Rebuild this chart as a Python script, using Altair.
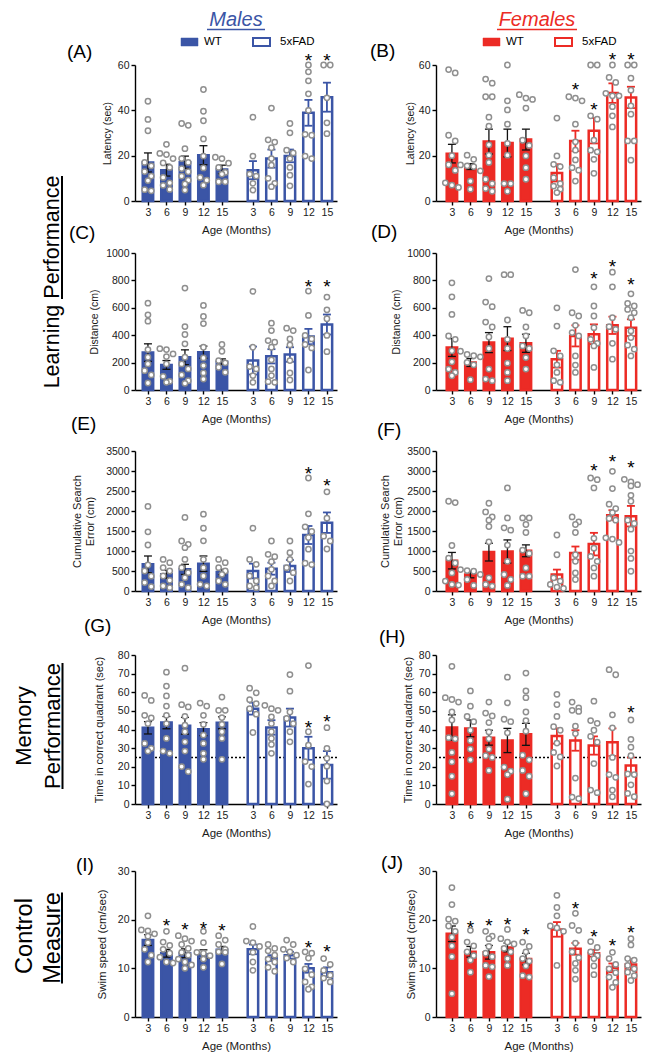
import altair as alt
import pandas as pd

FONT = "Liberation Sans"
AGES = [3, 6, 9, 12, 15]
BLUE = "#3B55A6"
RED = "#EC2B25"
GRAY = "#8F8F8F"

# ---------------- Panel A : latency, males ----------------
A_WT_MEAN = [17.0, 13.6, 17.1, 20.2, 13.9]
A_WT_SEM = [4.2, 2.6, 2.7, 4.2, 1.9]
A_WT_PTS = [
    [44, 36, 31, 17, 15.5, 13, 11, 9, 5, 4.5],
    [25, 21, 20.5, 18.7, 16.8, 14.8, 10.4, 8, 6.9, 5.1],
    [34.2, 33.4, 23.1, 18.7, 17, 14.3, 12.9, 11, 9.2, 7.5, 4.8],
    [49.2, 39.6, 35.4, 27.4, 19.8, 14.6, 10.4, 9.2, 7],
    [19.3, 18.7, 16.7, 14.8, 12.6, 11.9, 8.5, 8.5],
]
A_FAD_MEAN = [13.6, 18.7, 19.9, 38.9, 45.8]
A_FAD_SEM = [4.0, 4.0, 2.8, 5.7, 6.4]
A_FAD_PTS = [
    [37, 19.8, 11.9, 11, 7.8, 4.8],
    [41, 27, 26, 23.5, 18.7, 15.8, 10, 7.8, 6.3],
    [34.2, 30.1, 22.4, 21.2, 18.7, 14.8, 11.4, 6.7],
    [60, 57, 53, 47.3, 40, 29.4, 29, 19.8, 18.7],
    [60, 60, 45.5, 34.5, 29.7],
]
A_STARS = [("5xFAD", 12, 65.5), ("5xFAD", 15, 65.5)]

# ---------------- Panel B : latency, females ----------------
B_WT_MEAN = [20.9, 15.2, 26.2, 25.6, 27.1]
B_WT_SEM = [4.1, 1.3, 5.5, 6.1, 4.6]
B_WT_PTS = [
    [58, 56.5, 29, 26.5, 20, 16, 13.5, 8, 7, 6],
    [20.2, 18.4, 15.9, 15.5, 15.2, 13.3, 8.8, 5.2],
    [53.8, 52, 46, 46, 37, 33, 24.8, 20.2, 17, 9.6, 7.7, 5.5, 4.3],
    [60, 44.2, 40.2, 33.9, 25.4, 20.2, 7.7, 7.7, 4.3],
    [46.9, 45.4, 44.8, 41, 26.8, 24.5, 19.9, 14.7, 9.6],
]
B_FAD_MEAN = [12.4, 26.5, 31.0, 47.6, 45.7]
B_FAD_SEM = [3.8, 4.5, 5.6, 4.3, 4.7]
B_FAD_PTS = [
    [36.6, 19.9, 16.2, 15.2, 10.3, 7.7, 6.6, 5.2, 3.7],
    [46, 45.4, 44.2, 33.9, 26.1, 22.4, 18.1, 14.7, 13.6, 8.8],
    [60, 60, 37.6, 36.1, 26.8, 22.4, 21.7, 18.4, 12.2],
    [60, 54.5, 52.3, 47.5, 46.4, 46.4, 41.6, 37.6, 32.7],
    [60, 60, 54.2, 48.9, 42, 38.3, 26.5, 26.5, 18],
]
B_STARS = [("5xFAD", 6, 52.3), ("5xFAD", 9, 43.8), ("5xFAD", 12, 65.6), ("5xFAD", 15, 65.8)]

# ---------------- Panel C : distance, males ----------------
C_WT_MEAN = [273, 183, 239, 276, 207]
C_WT_SEM = [64, 32, 54, 44, 20]
C_WT_PTS = [
    [634, 549, 502, 295, 239, 190, 141, 110, 51],
    [302, 295, 263, 244, 190, 100, 63, 56],
    [744, 463, 405, 337, 239, 190, 154, 110, 68, 49],
    [617, 537, 485, 312, 234, 178, 125, 80],
    [332, 283, 215, 198, 166, 129],
]
C_FAD_MEAN = [215, 246, 259, 390, 478]
C_FAD_SEM = [102, 52, 53, 56, 73]
C_FAD_PTS = [
    [720, 312, 171, 154, 105, 56],
    [488, 434, 361, 349, 312, 220, 154, 105, 61, 56],
    [451, 434, 373, 329, 215, 124, 73],
    [722, 544, 398, 373, 332, 307, 146],
    [678, 585, 520, 398, 280],
]
C_STARS = [("5xFAD", 12, 812), ("5xFAD", 15, 812)]

# ---------------- Panel D : distance, females ----------------
D_WT_MEAN = [310, 201, 346, 375, 341]
D_WT_SEM = [65, 29, 73, 87, 66]
D_WT_PTS = [
    [782, 680, 552, 395, 370, 286, 206, 153, 128, 104],
    [283, 259, 250, 242, 201, 184, 75],
    [813, 642, 608, 496, 460, 387, 303, 153, 80, 68],
    [842, 842, 511, 370, 303, 196, 128, 68],
    [581, 564, 460, 395, 322, 303, 237, 153],
]
D_FAD_MEAN = [225, 395, 407, 472, 455]
D_FAD_SEM = [61, 77, 72, 63, 61]
D_FAD_PTS = [
    [600, 467, 286, 249, 184, 128, 68, 56],
    [879, 564, 540, 472, 419, 395, 249, 182, 128],
    [753, 613, 540, 455, 370, 341, 322, 165],
    [860, 753, 528, 462, 443, 341, 225],
    [702, 632, 613, 588, 564, 528, 431, 383, 327, 298, 249],
]
D_STARS = [("5xFAD", 9, 867), ("5xFAD", 12, 956), ("5xFAD", 15, 826)]

# ---------------- Panel E : cumulative search error, males ----------------
E_WT_MEAN = [667, 417, 541, 683, 475]
E_WT_SEM = [208, 100, 126, 192, 66]
E_WT_PTS = [
    [2114, 1480, 1150, 650, 500, 370, 210, 110],
    [790, 708, 583, 500, 375, 267, 125, 83],
    [1840, 1250, 1167, 1083, 790, 583, 458, 333, 167, 83],
    [1920, 1571, 1254, 790, 583, 375, 167, 125],
    [790, 708, 583, 500, 417, 250, 167],
]
E_FAD_MEAN = [500, 558, 625, 1400, 1708]
E_FAD_SEM = [183, 150, 150, 225, 256]
E_FAD_PTS = [
    [1571, 790, 667, 375, 250, 125, 83],
    [1250, 916, 858, 733, 541, 375, 250, 125],
    [1250, 958, 790, 583, 458, 250],
    [2825, 1930, 1604, 1487, 1337, 1045, 694, 660],
    [2480, 1820, 1370, 1250, 1050],
]
E_STARS = [("5xFAD", 12, 3125), ("5xFAD", 15, 2825)]

# ---------------- Panel F : cumulative search error, females ----------------
F_WT_MEAN = [758, 412, 972, 988, 1005]
F_WT_SEM = [206, 82, 222, 289, 148]
F_WT_PTS = [
    [2244, 2210, 1137, 824, 700, 453, 247, 165, 148],
    [535, 511, 494, 412, 288, 140],
    [2194, 1978, 1853, 1770, 1612, 1230, 330, 165, 124],
    [2576, 1828, 1580, 1520, 1147, 741, 412, 288, 140],
    [1828, 1828, 1662, 1463, 1022, 939, 577, 371, 371],
]
F_FAD_MEAN = [412, 947, 1172, 1895, 1870]
F_FAD_SEM = [123, 165, 282, 125, 257]
F_FAD_PTS = [
    [1400, 906, 330, 247, 165, 99, 66],
    [1853, 1728, 1662, 1463, 906, 741, 453, 288],
    [2825, 2784, 2576, 1318, 1071, 865, 742, 577, 371],
    [2992, 2560, 2170, 2061, 1961, 1812, 1770, 1330, 1297, 1214],
    [2792, 2726, 2659, 2626, 2393, 2244, 1770, 1687, 1545, 997, 814, 494],
]
F_STARS = [("5xFAD", 9, 3200), ("5xFAD", 12, 3433), ("5xFAD", 15, 3267)]

# ---------------- Panel G : time in correct quadrant, males ----------------
G_WT_MEAN = [40.9, 43.7, 42.0, 40.2, 43.6]
G_WT_SEM = [3.3, 3.3, 4.5, 3.5, 3.2]
G_WT_PTS = [
    [58.3, 55.6, 47.6, 46.2, 43.2, 32.5, 29.9, 28.4],
    [70.8, 63.3, 58, 52.6, 47.6, 43.2, 35.2, 28.4, 27.2],
    [72.9, 53.3, 52.1, 47.1, 42.3, 38.8, 33.4, 28.4, 20.1, 17.4],
    [54.2, 52.6, 47.6, 42.7, 37, 32.5, 27.2, 24],
    [57.4, 50.3, 50.3, 46.4, 42.7, 38.8, 35.2, 24],
]
G_FAD_MEAN = [51.2, 41.1, 46.4, 29.9, 21.0]
G_FAD_SEM = [3.2, 3.9, 4.8, 6.2, 7.4]
G_FAD_PTS = [
    [62.2, 59.7, 56, 53.9, 51.2, 48.2, 38.4],
    [53, 51.2, 50.3, 46.8, 43.2, 38.8, 35.2, 32, 27.2],
    [69.5, 60.6, 49.4, 45.9, 43.2, 38.8, 33.4],
    [74.3, 38.8, 31.6, 22.8, 20.1, 10.7],
    [41, 29.9, 24.5, 20.3, 12.3, 0],
]
G_STARS = [("5xFAD", 12, 45), ("5xFAD", 15, 48.5)]

# ---------------- Panel H : time in correct quadrant, females ----------------
H_WT_MEAN = [41.1, 40.6, 35.6, 34.1, 37.4]
H_WT_SEM = [6.8, 4.5, 4.0, 6.5, 5.9]
H_WT_PTS = [
    [73.9, 57.1, 56.1, 54.7, 49.4, 45.1, 35.6, 35, 27.7, 22.6, 14.9, 5.5],
    [60.7, 52.5, 47, 44.2, 39.6, 34.1, 29.5, 23.7],
    [54.7, 48.8, 47.3, 43.7, 38.7, 35, 29.5, 25.9, 25, 18],
    [68.1, 54.3, 45.5, 44.2, 38.2, 19.8, 17.6, 15.8, 2.6],
    [70.3, 60.7, 57.1, 49.4, 44.8, 39.1, 26.2, 23.7, 18, 14.9, 5.5],
]
H_FAD_MEAN = [36.5, 34.1, 31.4, 33.2, 20.7]
H_FAD_SEM = [4.1, 5.5, 4.9, 7.4, 4.3]
H_FAD_PTS = [
    [58.9, 53.4, 47, 41.5, 39.6, 32.7, 27.7, 25.3, 20.4],
    [54.7, 51.6, 50.3, 49.7, 41.8, 37.8, 13.9, 3.7, 2.9],
    [55.2, 44.8, 43.3, 39.6, 36.3, 33.2, 21.7, 7.5, 6.1],
    [72.1, 69.4, 47.9, 40.9, 25, 15.8, 14.3, 7.5, 3.9],
    [45.1, 34.7, 30.5, 25.9, 16.1, 15.8, 10.3, 5.7, 3.9],
]
H_STARS = [("5xFAD", 15, 53.4)]

# ---------------- Panel I : swim speed, males ----------------
I_WT_MEAN = [15.8, 13.1, 13.1, 12.9, 13.8]
I_WT_SEM = [1.1, 0.8, 0.9, 0.9, 0.7]
I_WT_PTS = [
    [20.8, 17.9, 17.7, 17.1, 16.6, 15.3, 13.9, 12.7, 11.3],
    [17.6, 15.4, 14.7, 13.9, 13.1, 12.3, 11.3, 11.1],
    [16.7, 16.1, 15.6, 14.9, 14.1, 13.3, 12.7, 11.9, 11.3, 10.7, 10],
    [17.6, 15.3, 13.3, 13.1, 12.6, 11.9, 10.2],
    [16.7, 15.8, 14.9, 13.9, 13.4, 13.3, 10.9],
]
I_FAD_MEAN = [13.9, 12.1, 12.7, 10.0, 9.2]
I_FAD_SEM = [1.0, 0.6, 0.7, 0.9, 1.0]
I_FAD_PTS = [
    [18.6, 15.6, 15.3, 14.5, 13.3, 11.3, 9.6],
    [14.9, 14.1, 13.6, 12.7, 11.9, 11.3, 10.2, 9.4],
    [15.8, 14.9, 13.9, 13.4, 12.7, 12.1, 11.3],
    [13.4, 13.1, 12.1, 9.9, 8.7, 7.2, 6.2, 5.7],
    [12, 10.8, 9.6, 8.6, 8, 7.2],
]
I_STARS = [("WT", 6, 20.3), ("WT", 9, 19.6), ("WT", 12, 19.8), ("WT", 15, 19.4),
           ("5xFAD", 12, 15.8), ("5xFAD", 15, 15.0)]

# ---------------- Panel J : swim speed, females ----------------
J_WT_MEAN = [17.1, 13.4, 13.3, 14.3, 11.9]
J_WT_SEM = [1.6, 1.1, 1.4, 0.9, 1.2]
J_WT_PTS = [
    [26.6, 23.1, 20.1, 19.7, 18.7, 17.6, 16.4, 14.6, 12.4, 4.8],
    [17.8, 15.4, 14.6, 13.4, 12.6, 11.7, 9.2],
    [17.6, 16.6, 16.1, 14.5, 13.1, 12.4, 10.6, 10.3, 8.3],
    [18, 16.1, 15.4, 15, 14.1, 13.4, 12, 10.6],
    [15.4, 14.5, 13.4, 12, 11.5, 10.5, 8.5, 8.2],
]
J_FAD_MEAN = [18.0, 14.0, 13.1, 10.1, 10.8]
J_FAD_SEM = [1.5, 1.2, 0.7, 0.9, 1.1]
J_FAD_PTS = [
    [25, 22.5, 20.8, 18.7, 18.3, 17.6, 10.6],
    [21.3, 18.8, 17.8, 15.2, 13.4, 12.2, 11, 9.6, 7.8],
    [15.5, 14.3, 13.4, 12.6, 12, 10.5, 8.7],
    [13.3, 12, 10.8, 9.9, 9.1, 8.2, 7.1, 6.1],
    [16.1, 14.8, 12, 11.7, 10.6, 9.9, 9.2, 8.5, 7.5],
]
J_STARS = [("WT", 6, 19.9), ("WT", 9, 20.3), ("WT", 12, 20.6), ("WT", 15, 18.5),
           ("5xFAD", 6, 23.8), ("5xFAD", 9, 18.0), ("5xFAD", 12, 16.2), ("5xFAD", 15, 19.0)]

# ---------------- layout constants ----------------
STEP = 18.5                       # px between neighbouring bars
FAD_SHIFT = 4 + 31 / 18.5         # position of first 5xFAD bar
X_DOMAINS = [(-0.70, 10.22), (-0.86, 10.22)]
BAR_HALF = 0.282
CAP_HALF = 0.216
ONE = pd.DataFrame({"k": [0]})
LABEL_EXPR = ("[" + ",".join("'%d'" % a for a in AGES) + "]"
              "[datum.value < 5 ? round(datum.value) : round(datum.value - %.5f)]" % FAD_SHIFT)


def spread(vals, ppu, diam=6.6):
    order = sorted(range(len(vals)), key=lambda k: -vals[k])
    offs = [0.0] * len(vals)
    clusters = []
    for k in order:
        if clusters and (vals[clusters[-1][0]] - vals[k]) * ppu < diam * 0.9:
            clusters[-1].append(k)
        else:
            clusters.append([k])
    for cl in clusters:
        m = len(cl)
        for j, k in enumerate(cl):
            offs[k] = (j - (m - 1) / 2) * diam / STEP
    return offs


def note(text, x, y, size, color="black", align="left", baseline="middle", angle=0, style="normal"):
    return alt.Chart(ONE).mark_text(
        text=text, fontSize=size, color=color, align=align, baseline=baseline,
        angle=angle, font=FONT, fontStyle=style
    ).encode(x=alt.value(x), y=alt.value(y))


def hline(x1, x2, y, color, w):
    return alt.Chart(ONE).mark_rule(color=color, strokeWidth=w).encode(
        x=alt.value(x1), x2=alt.value(x2), y=alt.value(y))


def vline(x, y1, y2, color, w):
    return alt.Chart(ONE).mark_rule(color=color, strokeWidth=w).encode(
        x=alt.value(x), y=alt.value(y1), y2=alt.value(y2))


def box(x1, x2, y1, y2, fill, stroke, w):
    return alt.Chart(ONE).mark_rect(fill=fill, stroke=stroke, strokeWidth=w).encode(
        x=alt.value(x1), x2=alt.value(x2), y=alt.value(y1), y2=alt.value(y2))


def header(text, color, center, uhalf):
    return [
        note(text, center, -39, 20, color=color, align="center", baseline="alphabetic", style="italic"),
        hline(center - uhalf, center + uhalf, -35.5, color, 1.6),
    ]


def legend(color, x0):
    return [
        box(x0, x0 + 17, -27, -19, color, color, 0.5),
        note("WT", x0 + 23, -23, 11.5),
        box(x0 + 72, x0 + 89, -27, -19, "white", color, 2),
        note("5xFAD", x0 + 99, -23, 11.5),
    ]


def panel(wt_mean, wt_sem, wt_pts, fad_mean, fad_sem, fad_pts, stars, color, col, height,
          ymax, ystep, ytitle, tfs, tpad, letter, lxy, chance=False, extra=()):
    dom = X_DOMAINS[col]
    width = round((dom[1] - dom[0]) * STEP, 1)
    ppu = height / ymax
    xs = alt.Scale(domain=list(dom), nice=False, zero=False)
    ys = alt.Scale(domain=[0, ymax], nice=False)
    positions = [float(i) for i in range(5)] + [FAD_SHIFT + i for i in range(5)]
    xaxis = alt.Axis(values=positions, labelExpr=LABEL_EXPR, title="Age (Months)",
                     labelFlush=False, labelOverlap=False)
    yaxis = alt.Axis(values=list(range(0, ymax + 1, ystep)), title=ytitle, titleFontSize=tfs,
                     titlePadding=tpad, labelFlush=False, labelOverlap=False, format="d")

    def X(f):
        return alt.X(f, type="quantitative", scale=xs, axis=xaxis)

    def Y(f):
        return alt.Y(f, type="quantitative", scale=ys, axis=yaxis)

    brows, prows = [], []
    for g, (means, sems, pts) in enumerate([(wt_mean, wt_sem, wt_pts), (fad_mean, fad_sem, fad_pts)]):
        for i in range(5):
            p = i if g == 0 else FAD_SHIFT + i
            brows.append(dict(pos=p, lo=p - BAR_HALF, hi=p + BAR_HALF, mean=means[i], zero=0,
                              fill=color if g == 0 else "white", stroke=color,
                              elo=means[i] - sems[i], ehi=means[i] + sems[i],
                              clo=p - CAP_HALF, chi=p + CAP_HALF,
                              ecol="#111111" if g == 0 else color, ew=1.3 if g == 0 else 1.8))
            for v, o in zip(pts[i], spread(pts[i], ppu)):
                prows.append(dict(px=p + o, val=v))
    srows = []
    for geno, age, v in stars:
        p = AGES.index(age) + (0 if geno == "WT" else FAD_SHIFT)
        srows.append(dict(pos=p, val=v))
    bdf, pdf, sdf = pd.DataFrame(brows), pd.DataFrame(prows), pd.DataFrame(srows)

    layers = []
    if chance:
        layers.append(alt.Chart(pd.DataFrame({"v": [25]})).mark_rule(
            strokeDash=[2, 2], color="black", strokeWidth=1.4).encode(y=Y("v")))
    layers.append(alt.Chart(bdf).mark_rect(strokeWidth=2.5).encode(
        x=X("lo"), x2="hi", y=Y("mean"), y2="zero",
        fill=alt.Fill("fill:N", scale=None), stroke=alt.Stroke("stroke:N", scale=None)))
    layers.append(alt.Chart(bdf).mark_rule().encode(
        x=X("pos"), y=Y("elo"), y2="ehi",
        color=alt.Color("ecol:N", scale=None), strokeWidth=alt.StrokeWidth("ew:Q", scale=None)))
    for f in ("ehi", "elo"):
        layers.append(alt.Chart(bdf).mark_rule().encode(
            x=X("clo"), x2="chi", y=Y(f),
            color=alt.Color("ecol:N", scale=None), strokeWidth=alt.StrokeWidth("ew:Q", scale=None)))
    layers.append(alt.Chart(pdf).mark_point(
        shape="circle", filled=True, fill="white", stroke=GRAY, strokeWidth=1.5,
        size=28, opacity=1).encode(x=X("px"), y=Y("val")))
    layers.append(alt.Chart(sdf).mark_text(
        text="*", fontSize=19, dy=8, font=FONT, color="black").encode(x=X("pos"), y=Y("val")))
    layers.append(note(letter, lxy[0], lxy[1], 19))
    layers.extend(extra)
    return alt.layer(*layers).properties(width=width, height=height)


def spacer(h):
    return alt.Chart(ONE).mark_point(opacity=0).encode(
        x=alt.value(0), y=alt.value(0)).properties(width=1, height=h)


CSE = ["Cumulative Search", "Error (cm)"]
TCQ = "Time in correct quadrant (sec)"
SWIM = "Swim speed (cm/sec)"

pA = panel(A_WT_MEAN, A_WT_SEM, A_WT_PTS, A_FAD_MEAN, A_FAD_SEM, A_FAD_PTS, A_STARS, BLUE, 0, 136,
           60, 20, "Latency (sec)", 10.5, 5, "(A)", (-68, -13),
           extra=header("Males", BLUE, 101, 29) + legend(BLUE, 46))
pB = panel(B_WT_MEAN, B_WT_SEM, B_WT_PTS, B_FAD_MEAN, B_FAD_SEM, B_FAD_PTS, B_STARS, RED, 1, 136,
           60, 20, "Latency (sec)", 10.5, 3, "(B)", (-66, -14),
           extra=header("Females", RED, 101, 40) + legend(RED, 47))
pC = panel(C_WT_MEAN, C_WT_SEM, C_WT_PTS, C_FAD_MEAN, C_FAD_SEM, C_FAD_PTS, C_STARS, BLUE, 0, 137,
           1000, 200, "Distance (cm)", 10.5, 6, "(C)", (-66, -20),
           extra=[note("Learning Performance", -76, 29, 21.5, align="center",
                       baseline="alphabetic", angle=270),
                  vline(-73, -77, 46, "black", 2)])
pD = panel(D_WT_MEAN, D_WT_SEM, D_WT_PTS, D_FAD_MEAN, D_FAD_SEM, D_FAD_PTS, D_STARS, RED, 1, 137,
           1000, 200, "Distance (cm)", 10.5, 5, "(D)", (-65, -21))
pE = panel(E_WT_MEAN, E_WT_SEM, E_WT_PTS, E_FAD_MEAN, E_FAD_SEM, E_FAD_PTS, E_STARS, BLUE, 0, 140,
           3500, 500, CSE, 11, 10, "(E)", (-64, -27))
pF = panel(F_WT_MEAN, F_WT_SEM, F_WT_PTS, F_FAD_MEAN, F_FAD_SEM, F_FAD_PTS, F_STARS, RED, 1, 140,
           3500, 500, CSE, 11, 3, "(F)", (-59, -21))
pG = panel(G_WT_MEAN, G_WT_SEM, G_WT_PTS, G_FAD_MEAN, G_FAD_SEM, G_FAD_PTS, G_STARS, BLUE, 0, 149,
           80, 10, TCQ, 11, 13, "(G)", (-51, -29), chance=True,
           extra=[note("Memory", -104, 71, 22, align="center", baseline="alphabetic", angle=270),
                  note("Performance", -75, 71, 22, align="center", baseline="alphabetic", angle=270),
                  vline(-72.5, 8, 134, "black", 2)])
pH = panel(H_WT_MEAN, H_WT_SEM, H_WT_PTS, H_FAD_MEAN, H_FAD_SEM, H_FAD_PTS, H_STARS, RED, 1, 149,
           80, 10, TCQ, 11, 5, "(H)", (-57, -18), chance=True)
pI = panel(I_WT_MEAN, I_WT_SEM, I_WT_PTS, I_FAD_MEAN, I_FAD_SEM, I_FAD_PTS, I_STARS, BLUE, 0, 146,
           30, 10, SWIM, 11.5, 10, "(I)", (-59, -6),
           extra=[note("Control", -103, 65, 23.5, align="center", baseline="alphabetic", angle=270),
                  note("Measure", -75, 67, 23.5, align="center", baseline="alphabetic", angle=270),
                  vline(-73, 21.5, 112.5, "black", 2)])
pJ = panel(J_WT_MEAN, J_WT_SEM, J_WT_PTS, J_FAD_MEAN, J_FAD_SEM, J_FAD_PTS, J_STARS, RED, 1, 146,
           30, 10, SWIM, 11.5, 1.5, "(J)", (-55, -8))

cells = [pA, pB, spacer(52), spacer(52),
         pC, pD, spacer(61), spacer(61),
         pE, pF, spacer(64), spacer(64),
         pG, pH, spacer(67), spacer(67),
         pI, pJ]

chart = alt.concat(
    *cells, columns=2, spacing={"row": 0, "column": 99}, bounds="flush", align="each"
).properties(
    padding={"left": 5, "top": 2, "right": 0, "bottom": 0}
).configure_view(
    stroke=None
).configure_axis(
    domainColor="black", domainWidth=1.4, tickColor="black", tickWidth=1.4, tickSize=4,
    labelFont=FONT, labelFontSize=10.5, labelColor="#1a1a1a", labelPadding=2,
    titleFont=FONT, titleFontWeight="normal", titleColor="#1a1a1a", grid=False
).configure_axisX(
    titleFontSize=11.5, titlePadding=7
)

chart.save("out.html", embed_options={"renderer": "svg", "actions": False})
